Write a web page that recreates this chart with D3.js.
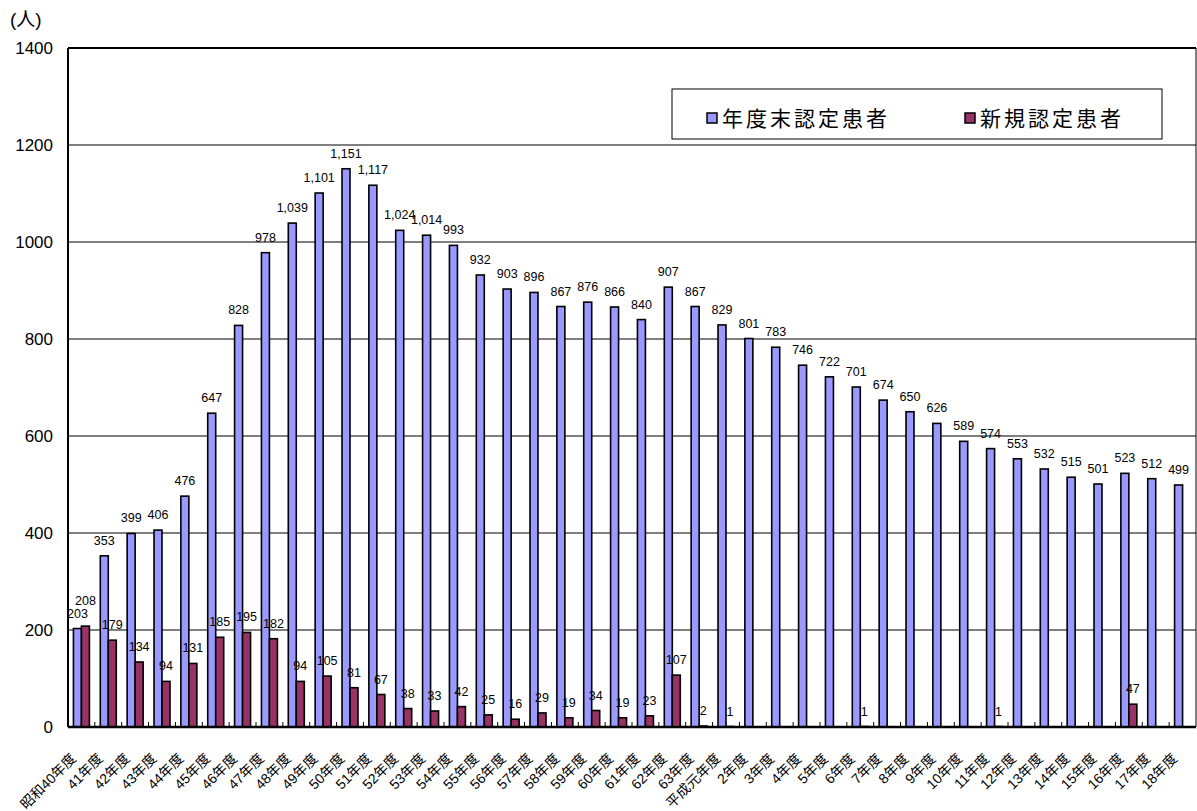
<!DOCTYPE html>
<html lang="ja">
  <head>
    <meta charset="UTF-8">
    <title>認定患者数の推移</title>
    <style>
      html,body{
        background-color: #fff;
        margin: 0;
        padding: 0;
      }
      text{
        font-family: "Liberation Sans", Arial, "Noto Sans CJK JP", sans-serif;
        fill: #000;
      }
    </style>
  </head>
  <body>
    <div id="chart"></div>
    <script src="https://d3js.org/d3.v7.min.js"></script>
    <script>
      // 年度（昭和40年度〜平成18年度）
      var categorias = [
        "昭和40年度","41年度","42年度","43年度","44年度","45年度","46年度","47年度",
        "48年度","49年度","50年度","51年度","52年度","53年度","54年度","55年度",
        "56年度","57年度","58年度","59年度","60年度","61年度","62年度","63年度",
        "平成元年度","2年度","3年度","4年度","5年度","6年度","7年度","8年度",
        "9年度","10年度","11年度","12年度","13年度","14年度","15年度","16年度",
        "17年度","18年度"
      ];
      // 年度末認定患者
      var finAnio = [
        203,353,399,406,476,647,828,978,1039,1101,1151,1117,1024,1014,993,932,
        903,896,867,876,866,840,907,867,829,801,783,746,722,701,674,650,
        626,589,574,553,532,515,501,523,512,499
      ];
      // 新規認定患者
      var nuevos = [
        208,179,134,94,131,185,195,182,94,105,81,67,38,33,42,25,
        16,29,19,34,19,23,107,2,1,0,0,0,0,1,0,0,
        0,0,1,0,0,0,0,47,0,0
      ];
      var ticksY = [0,200,400,600,800,1000,1200,1400];
      var series = [
        {key: "fin", nombre: "年度末認定患者", color: "#9999FF", datos: finAnio},
        {key: "nuevo", nombre: "新規認定患者", color: "#993366", datos: nuevos}
      ];

      var ancho = 1197, alto = 811;
      var izq = 68, der = 1196, arriba = 48, abajo = 727;

      var svg = d3.select("#chart").append("svg")
        .attr("width", ancho)
        .attr("height", alto);

      var x0 = d3.scaleBand().domain(categorias).range([izq, der]).padding(0);
      var x1 = d3.scaleBand().domain(series.map(function(s){ return s.key; }))
        .range([0, x0.bandwidth()]).paddingInner(0).paddingOuter(0.68);
      var y = d3.scaleLinear().domain([0, 1400]).range([abajo, arriba]);

      // lineas de la cuadricula
      svg.append("g")
        .selectAll("line")
        .data(ticksY.filter(function(t){ return t > 0 && t < 1400; }))
        .join("line")
        .attr("x1", izq).attr("x2", der)
        .attr("y1", function(d){ return y(d); })
        .attr("y2", function(d){ return y(d); })
        .attr("stroke", "#000")
        .attr("stroke-width", 1);

      // eje Y
      var ejeY = svg.append("g")
        .attr("transform", "translate(" + izq + ",0)")
        .call(d3.axisLeft(y).tickValues(ticksY).tickFormat(d3.format("d")).tickSize(0).tickPadding(15));
      ejeY.select(".domain").remove();
      ejeY.selectAll("text").style("font-size", "17px");

      svg.append("text")
        .attr("x", 10).attr("y", 26)
        .style("font-size", "19px")
        .text("(人)");

      // barras
      var grupos = svg.append("g")
        .selectAll("g")
        .data(categorias)
        .join("g")
        .attr("transform", function(d){ return "translate(" + x0(d) + ",0)"; });

      grupos.selectAll("rect")
        .data(function(d, i){
          return series.map(function(s){ return {key: s.key, v: s.datos[i], color: s.color}; });
        })
        .join("rect")
        .attr("x", function(d){ return x1(d.key); })
        .attr("width", x1.bandwidth())
        .attr("y", function(d){ return y(d.v); })
        .attr("height", function(d){ return abajo - y(d.v); })
        .attr("fill", function(d){ return d.color; })
        .attr("stroke", "#000")
        .attr("stroke-width", 1.6);

      // etiquetas de valores
      var fmt = d3.format(",");
      grupos.each(function(c, i){
        var g = d3.select(this);
        var yFin = y(finAnio[i]) - 11;
        g.append("text")
          .attr("x", x1("fin") + x1.bandwidth() / 2)
          .attr("y", yFin)
          .attr("text-anchor", "middle")
          .style("font-size", "12.5px")
          .text(fmt(finAnio[i]));
        if (nuevos[i] > 0) {
          var yN = y(nuevos[i]) - 11;
          // evitar que se monte sobre la etiqueta azul
          if (Math.abs(yN - yFin) < 12) yN = yFin - 13;
          g.append("text")
            .attr("x", x1("nuevo") + x1.bandwidth() / 2)
            .attr("y", yN)
            .attr("text-anchor", "middle")
            .style("font-size", "12.5px")
            .text(nuevos[i]);
        }
      });

      // marco
      svg.append("line")
        .attr("x1", izq).attr("x2", der).attr("y1", arriba).attr("y2", arriba)
        .attr("stroke", "#000").attr("stroke-width", 2);
      svg.append("line")
        .attr("x1", der).attr("x2", der).attr("y1", arriba).attr("y2", abajo)
        .attr("stroke", "#000").attr("stroke-width", 1);
      svg.append("line")
        .attr("x1", izq).attr("x2", izq).attr("y1", arriba).attr("y2", abajo)
        .attr("stroke", "#000").attr("stroke-width", 2);

      // eje X
      var ejeX = svg.append("g")
        .attr("transform", "translate(0," + abajo + ")")
        .call(d3.axisBottom(x0).tickSize(0).tickPadding(0));
      ejeX.select(".domain").attr("stroke-width", 2.5).attr("d", "M" + izq + ",0H" + der);
      ejeX.selectAll("text")
        .style("font-size", "14px")
        .attr("text-anchor", "end")
        .attr("dy", "0.35em")
        .attr("transform", "translate(-8,29) rotate(-45)");

      // marcas entre categorias
      svg.append("g")
        .selectAll("line")
        .data(categorias.slice(1))
        .join("line")
        .attr("x1", function(d){ return x0(d); })
        .attr("x2", function(d){ return x0(d); })
        .attr("y1", abajo)
        .attr("y2", abajo - 5)
        .attr("stroke", "#000")
        .attr("stroke-width", 1);

      // leyenda
      var leyenda = svg.append("g");
      leyenda.append("rect")
        .attr("x", 672).attr("y", 89)
        .attr("width", 490).attr("height", 50)
        .attr("fill", "#fff")
        .attr("stroke", "#000")
        .attr("stroke-width", 1);
      var posLeyenda = [707, 965];
      series.forEach(function(s, i){
        leyenda.append("rect")
          .attr("x", posLeyenda[i]).attr("y", 113)
          .attr("width", 10).attr("height", 10)
          .attr("fill", s.color)
          .attr("stroke", "#000")
          .attr("stroke-width", 1.5);
        leyenda.append("text")
          .attr("x", posLeyenda[i] + 15).attr("y", 126)
          .style("font-size", "21px")
          .style("letter-spacing", "3px")
          .text(s.nombre);
      });
    </script>
  </body>
</html>
